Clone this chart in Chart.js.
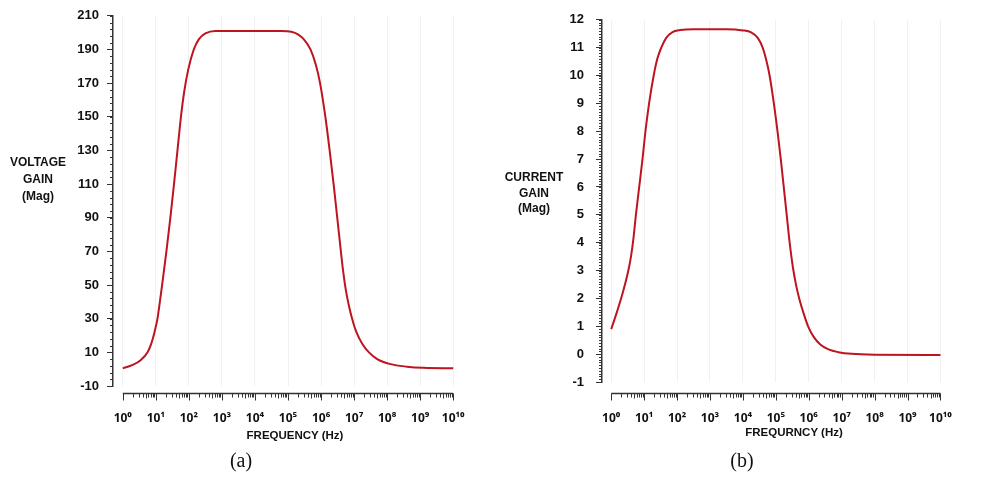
<!DOCTYPE html>
<html>
<head>
<meta charset="utf-8">
<script src="https://cdn.jsdelivr.net/npm/chart.js@4.4.1/dist/chart.umd.min.js"></script>
<style>
  body { margin: 0; background: #fff; width: 981px; height: 477px; position: relative; overflow: hidden; font-family: "Liberation Sans", Arial, sans-serif; color: #111; }
  canvas { position: absolute; top: 0; }
  #chartA { left: 0; }
  #chartB { left: 490px; }
  .ytitle { position: absolute; width: 64px; font-weight: bold; font-size: 12px; text-align: center; }
  .xtitle { position: absolute; font-weight: bold; font-size: 11.5px; line-height: 14px; transform: translateX(-50%); white-space: nowrap; }
  .caption { position: absolute; font-family: "Liberation Serif", "Times New Roman", serif; font-size: 20px; line-height: 24px; transform: translateX(-50%); }
</style>
</head>
<body>
<canvas id="chartA" width="490" height="477"></canvas>
<canvas id="chartB" width="491" height="477"></canvas>

<div class="ytitle" style="left:6px; top:154px; line-height:17px;">VOLTAGE<br>GAIN<br>(Mag)</div>
<div class="ytitle" style="left:502px; top:170px; line-height:15.5px;">CURRENT<br>GAIN<br>(Mag)</div>
<div class="xtitle" style="left:295px; top:428px;">FREQUENCY (Hz)</div>
<div class="xtitle" style="left:794px; top:425px;">FREQURNCY (Hz)</div>
<div class="caption" style="left:241px; top:448px;">(a)</div>
<div class="caption" style="left:742px; top:448px;">(b)</div>

<script>
// x values are log10 of frequency in Hz
const decadeTicks = [0, 1, 2, 3, 4, 5, 6, 7, 8, 9, 10];

const freqLogA = [0, 0.3, 0.55, 0.75, 0.86, 0.96, 1.05, 1.08, 1.115, 1.19, 1.32, 1.44, 1.55, 1.655, 1.76, 1.86, 1.98, 2.15, 2.3, 2.5, 2.8, 3.5, 4.5, 4.8, 5.1, 5.3, 5.48, 5.68, 5.84, 5.97, 6.13, 6.26, 6.38, 6.49, 6.6, 6.67, 6.75, 6.84, 6.94, 7.07, 7.25, 7.45, 7.7, 8.1, 8.6, 9.1, 10];
const voltageGain = [0.5, 2.5, 5.5, 10, 15, 22, 30, 34, 39, 50, 70, 90, 110, 130, 150, 165, 178, 190, 196, 199.5, 201, 201, 201, 201, 200.5, 199, 196, 190, 181, 170, 150, 130, 110, 90, 70, 58, 47, 38, 30, 22, 15, 10, 6, 3, 1.5, 0.8, 0.5];
const voltageTicks = [-10, 10, 30, 50, 70, 90, 110, 130, 150, 170, 190, 210];

const freqLogB = [0, 0.17, 0.35, 0.52, 0.6, 0.67, 0.75, 0.85, 0.95, 1.04, 1.15, 1.29, 1.4, 1.52, 1.67, 1.85, 2.1, 2.5, 3.5, 4.0, 4.25, 4.45, 4.6, 4.72, 4.81, 4.94, 5.05, 5.15, 5.24, 5.33, 5.42, 5.52, 5.62, 5.72, 5.86, 5.98, 6.16, 6.35, 6.6, 6.9, 7.3, 8.0, 10];
const currentGain = [0.9, 1.5, 2.2, 3, 3.5, 4.1, 5, 6, 7, 8, 9, 10, 10.6, 11, 11.35, 11.55, 11.63, 11.66, 11.66, 11.62, 11.55, 11.35, 11, 10.5, 10, 9, 8, 7, 6, 5, 4, 3.1, 2.45, 1.95, 1.4, 1, 0.6, 0.35, 0.17, 0.07, 0.01, -0.02, -0.03];
const currentTicks = [-1, 0, 1, 2, 3, 4, 5, 6, 7, 8, 9, 10, 11, 12];

const supDigits = { "0": "⁰", "1": "¹", "2": "²", "3": "³", "4": "⁴", "5": "⁵", "6": "⁶", "7": "⁷", "8": "⁸", "9": "⁹" };
const powerLabel = n => "10" + String(n).split("").map(d => supDigits[d]).join("");

// minor y ticks and the detached log x axis
const axisDecor = {
  id: "axisDecor",
  afterDraw(chart, args, o) {
    const { ctx, chartArea } = chart;
    const xs = chart.scales.x, ys = chart.scales.y;
    ctx.save();
    ctx.strokeStyle = "#333";
    ctx.lineWidth = 1;
    const n = Math.round((ys.max - ys.min) / o.yMinor);
    for (let i = 0; i <= n; i++) {
      const py = Math.round(ys.getPixelForValue(ys.min + i * o.yMinor)) + 0.5;
      ctx.beginPath();
      ctx.moveTo(chartArea.left, py);
      ctx.lineTo(chartArea.left - 3, py);
      ctx.stroke();
    }
    const ay = Math.round(chartArea.bottom + o.gap) + 0.5;
    const first = decadeTicks[0], last = decadeTicks[decadeTicks.length - 1];
    ctx.lineWidth = 1.5;
    ctx.beginPath();
    ctx.moveTo(xs.getPixelForValue(first), ay);
    ctx.lineTo(xs.getPixelForValue(last), ay);
    ctx.stroke();
    ctx.lineWidth = 1;
    decadeTicks.forEach(d => {
      const px = Math.round(xs.getPixelForValue(d)) + 0.5;
      ctx.beginPath();
      ctx.moveTo(px, ay);
      ctx.lineTo(px, ay + 7);
      ctx.stroke();
      if (d < last) {
        for (let k = 2; k <= 9; k++) {
          const mx = Math.round(xs.getPixelForValue(d + Math.log10(k))) + 0.5;
          ctx.beginPath();
          ctx.moveTo(mx, ay);
          ctx.lineTo(mx, ay + (k === 5 ? 5 : 4));
          ctx.stroke();
        }
      }
    });
    ctx.restore();
  }
};

function makeChart(id, xs, ys, yTicks, opt) {
  const points = xs.map((x, i) => ({ x: x, y: ys[i] }));
  return new Chart(document.getElementById(id), {
    type: "line",
    data: {
      datasets: [{
        data: points,
        borderColor: "#bd1420",
        borderWidth: 2,
        pointRadius: 0,
        fill: false,
        cubicInterpolationMode: "monotone"
      }]
    },
    options: {
      responsive: false,
      animation: false,
      layout: { padding: { top: opt.top, right: opt.right, left: 0, bottom: 0 } },
      plugins: {
        legend: { display: false },
        tooltip: { enabled: false },
        axisDecor: { yMinor: opt.yMinor, gap: opt.gap }
      },
      scales: {
        x: {
          type: "linear",
          min: opt.xMin,
          max: opt.xMax,
          afterBuildTicks: s => { s.ticks = decadeTicks.map(v => ({ value: v })); },
          afterFit: s => { s.height = 477 - opt.bottom; },
          ticks: {
            padding: opt.xPad,
            autoSkip: false,
            maxRotation: 0,
            color: "#111",
            font: { family: "'Noto Sans', 'DejaVu Sans', sans-serif", size: 12, weight: "bold" },
            callback: v => powerLabel(v)
          },
          grid: { color: "#f1f1f1", drawTicks: false },
          border: { display: false }
        },
        y: {
          min: yTicks[0],
          max: yTicks[yTicks.length - 1],
          afterBuildTicks: s => { s.ticks = yTicks.map(v => ({ value: v })); },
          afterFit: s => { s.width = opt.left; },
          ticks: {
            padding: opt.yPad,
            color: "#111",
            font: { size: 13, weight: "bold" },
            callback: v => String(v)
          },
          grid: { drawOnChartArea: false, tickLength: 6, tickColor: "#333" },
          border: { color: "#333", width: 1.5 }
        }
      }
    },
    plugins: [axisDecor]
  });
}

makeChart("chartA", freqLogA, voltageGain, voltageTicks, {
  top: 12, right: 24, bottom: 386, left: 113,
  xMin: -0.296, xMax: 10.15, xPad: 25, yPad: 8, yMinor: 4, gap: 7
});

makeChart("chartB", freqLogB, currentGain, currentTicks, {
  top: 11, right: 9, bottom: 382, left: 112,
  xMin: -0.28, xMax: 10.14, xPad: 29, yPad: 12, yMinor: 0.1, gap: 11
});
</script>
</body>
</html>
